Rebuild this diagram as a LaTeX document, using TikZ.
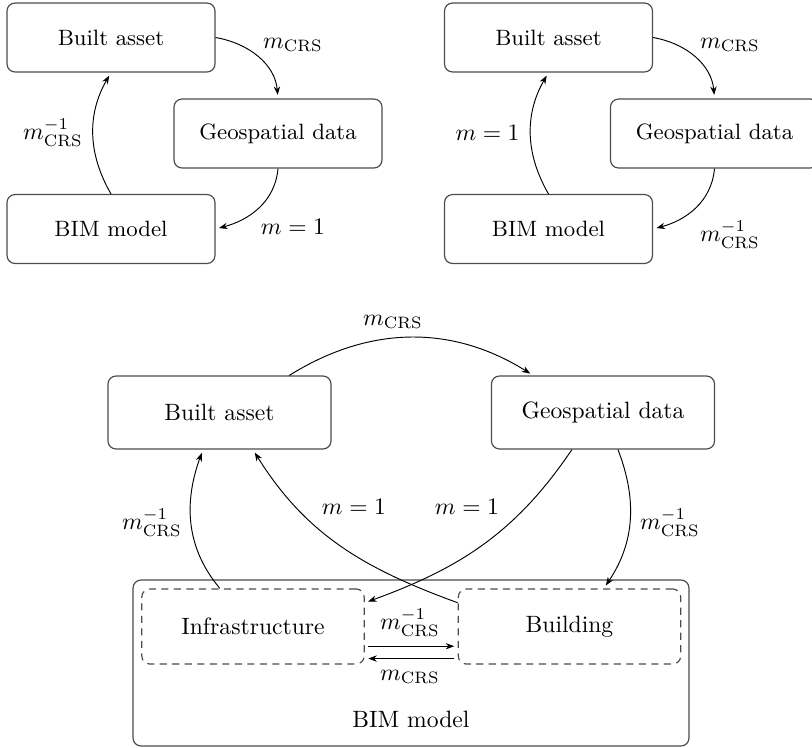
\documentclass[tikz,border=0pt]{standalone}
\usetikzlibrary{arrows.meta}
\begin{document}
\begin{tikzpicture}[x=0.4236pt,y=0.4236pt]
\tikzset{
 box/.style={draw=black!70, line width=0.5pt, rounded corners=3.4pt, inner sep=0pt, align=center},
 smallbox/.style={box, minimum width=88.1pt, minimum height=29.2pt, font=\fontsize{9.4pt}{11pt}\selectfont},
 bigbox/.style={box, minimum width=94.5pt, minimum height=30.9pt},
 dbox/.style={box, dash pattern=on 3pt off 2.3pt, minimum width=94.2pt, minimum height=31.8pt},
 arr/.style={-{Stealth[length=3.6pt,width=2.7pt]}, line width=0.4pt, shorten >=1.5pt},
 lbl/.style={inner sep=0pt}
}
\useasboundingbox (0,0) rectangle (812,-747);
% top-left
\node[smallbox] (ba1) at (111,-37.5) {Built asset};
\node[smallbox] (gd1) at (278,-133.5) {Geospatial data};
\node[smallbox] (bim1) at (111,-229) {BIM model};
\draw[arr] (ba1.east) to[out=-10,in=95] (gd1.north);
\draw[arr] (gd1.south) to[out=-95,in=15] (bim1.east);
\draw[arr] (bim1.north) to[out=120,in=-120] (ba1.south);
\node[lbl] (l1) at (293,-45) {$m_{\mathrm{CRS}}$};
\node[lbl] (l2) at (53,-133) {$m^{-1}_{\mathrm{CRS}}$};
\node[lbl] (l3) at (293,-227) {$m=1$};
% top-right
\node[smallbox] (ba2) at (548.5,-37.5) {Built asset};
\node[smallbox] (gd2) at (714.5,-133.5) {Geospatial data};
\node[smallbox] (bim2) at (548.5,-229) {BIM model};
\draw[arr] (ba2.east) to[out=-10,in=95] (gd2.north);
\draw[arr] (gd2.south) to[out=-95,in=15] (bim2.east);
\draw[arr] (bim2.north) to[out=120,in=-120] (ba2.south);
\node[lbl] (l4) at (730,-45) {$m_{\mathrm{CRS}}$};
\node[lbl] (l5) at (487.5,-133) {$m=1$};
\node[lbl] (l6) at (730,-235) {$m^{-1}_{\mathrm{CRS}}$};
% bottom
\node[bigbox] (ba3) at (219.5,-412.5) {Built asset};
\node[bigbox] (gd3) at (603,-412.5) {Geospatial data};
\node[box, minimum width=235.5pt, minimum height=70.3pt] (bim3) at (411,-663) {};
\node[lbl] (bimlbl) at (411,-719) {BIM model};
\node[dbox] (infra) at (253,-626.5) {Infrastructure};
\node[dbox] (bldg) at (569.5,-626.5) {Building};
\draw[arr] (ba3.28) to[out=32,in=148] (gd3.152);
\draw[arr] (infra.131) to[out=130,in=-110] (ba3.-114);
\draw[arr] (bldg.168) to[out=160,in=-58] (ba3.-48);
\draw[arr] (gd3.-130) to[out=-124,in=20] (infra.12);
\draw[arr] (gd3.-68) to[out=-69,in=56] (bldg.48);
\draw[arr, shorten <=1.5pt] (infra.-10) -- (bldg.190);
\draw[arr, shorten <=1.5pt] (bldg.196) -- (infra.-16);
\node[lbl] (l7) at (393,-322) {$m_{\mathrm{CRS}}$};
\node[lbl] (l8) at (152,-523) {$m^{-1}_{\mathrm{CRS}}$};
\node[lbl] (l9) at (354,-507) {$m=1$};
\node[lbl] (l10) at (467,-507) {$m=1$};
\node[lbl] (l11) at (670,-523) {$m^{-1}_{\mathrm{CRS}}$};
\node[lbl] (l12) at (410,-623) {$m^{-1}_{\mathrm{CRS}}$};
\node[lbl] (l13) at (410,-677) {$m_{\mathrm{CRS}}$};
\end{tikzpicture}
\end{document}
